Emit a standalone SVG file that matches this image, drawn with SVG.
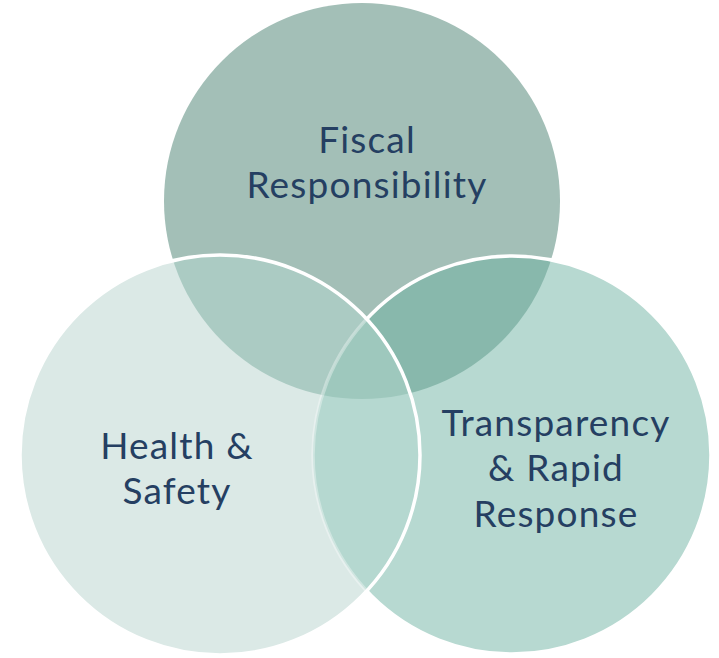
<svg xmlns="http://www.w3.org/2000/svg" width="719" height="658" viewBox="0 0 719 658">
<style>
.lbl{font-family:"Lato","Open Sans",sans-serif;font-size:37px;letter-spacing:1.2px;fill:#253f62;text-anchor:middle}
.ring{fill:none;stroke:#ffffff;stroke-width:3.5}
</style>
<defs>
<circle id="cT" cx="362" cy="201" r="198"/>
<circle id="cL" cx="220" cy="455" r="200"/>
<circle id="cR" cx="512" cy="455" r="199"/>
<clipPath id="clipT"><use href="#cT"/></clipPath>
<clipPath id="clipL"><use href="#cL"/></clipPath>
<clipPath id="clipR"><use href="#cR"/></clipPath>
<mask id="outL"><rect width="719" height="658" fill="#fff"/><use href="#cL" fill="#000"/></mask>
</defs>
<rect width="719" height="658" fill="#ffffff"/>
<g id="node-fiscal">
<use href="#cT" fill="#a3bfb7"/>
</g>
<g id="node-transparency">
<use href="#cR" fill="#b7d9d1"/>
<g clip-path="url(#clipT)"><use href="#cR" fill="#88b8ac"/></g>
</g>
<g id="node-health">
<use href="#cL" fill="#dbe9e6"/>
<g clip-path="url(#clipT)"><use href="#cL" fill="#abcbc3"/></g>
<g clip-path="url(#clipR)"><use href="#cL" fill="#b5d8d0"/></g>
<g clip-path="url(#clipR)"><g clip-path="url(#clipT)"><use href="#cL" fill="#9ec8bd"/></g></g>
</g>
<g id="outlines">
<use href="#cR" class="ring" mask="url(#outL)"/>
<g clip-path="url(#clipL)"><use href="#cR" class="ring" stroke-opacity="0.35"/></g>
<use href="#cL" class="ring"/>
</g>
<g id="labels">
<text class="lbl" x="367" y="153">Fiscal</text>
<text class="lbl" x="367" y="198">Responsibility</text>
<text class="lbl" x="177" y="459">Health &amp;</text>
<text class="lbl" x="177" y="504">Safety</text>
<text class="lbl" x="556" y="436">Transparency</text>
<text class="lbl" x="556" y="481">&amp; Rapid</text>
<text class="lbl" x="556" y="527">Response</text>
</g>
</svg>
